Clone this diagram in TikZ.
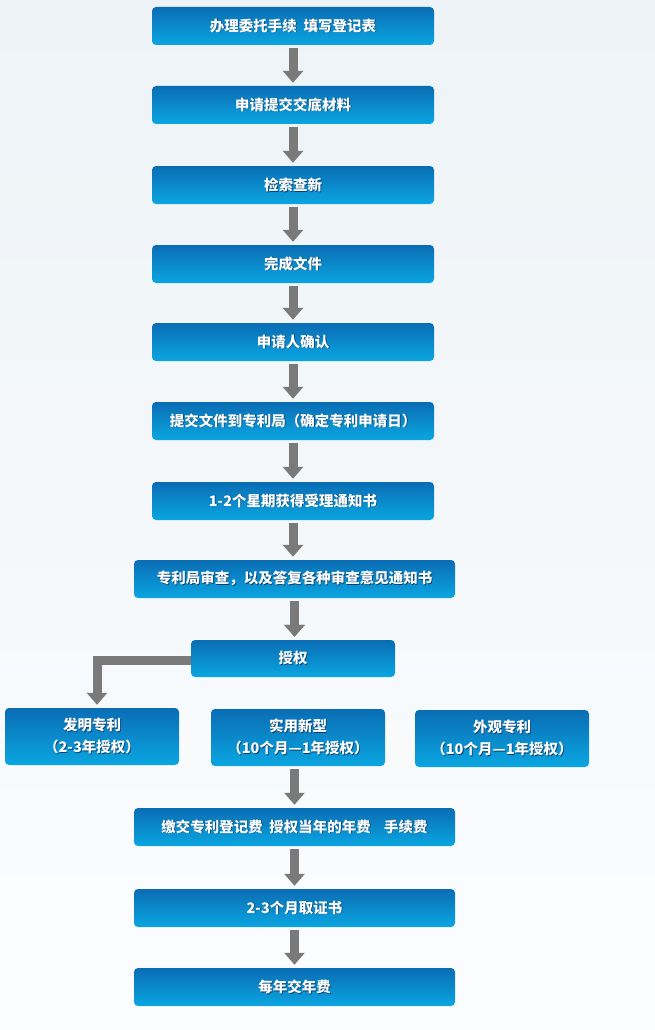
\documentclass[tikz,border=0pt]{standalone}
\usepackage{fontspec}
\setmainfont{Noto Sans CJK SC}
\usetikzlibrary{arrows.meta}
\definecolor{btop}{HTML}{0A6DB4}
\definecolor{bbot}{HTML}{0AA6E1}
\definecolor{shadowc}{HTML}{073F70}
\definecolor{arrgray}{HTML}{7A7A7A}
\definecolor{bgtop}{HTML}{EDF3F7}
\definecolor{bgbot}{HTML}{FCFDFE}
\newcommand\glow[1]{\leavevmode\rlap{\kern0.8pt\raisebox{-0.8pt}{\color{shadowc}#1}}#1}
\tikzset{
  stepbox/.style={rectangle, rounded corners=4pt, top color=btop, bottom color=bbot,
    draw=none, minimum width=282pt, minimum height=38pt, inner sep=0pt, text=white,
    align=center, font=\bfseries\fontsize{14.5}{22}\selectfont},
  widebox/.style={stepbox, minimum width=321pt},
  typebox/.style={stepbox, minimum width=174pt, minimum height=57pt},
  arr/.style={draw=arrgray, line width=9pt, shorten <=3pt, shorten >=3pt,
    -{Triangle[width=20pt,length=12pt]}, arrgray},
}
\begin{document}
\begin{tikzpicture}[x=1pt,y=-1pt]
\shade[top color=bgtop, bottom color=bgbot] (0,0) rectangle (655,1030);
\useasboundingbox (0,0) rectangle (655,1030);
\node[stepbox] (b1) at (293,26) {\glow{办理委托手续\ \ 填写登记表}};
\node[stepbox] (b2) at (293,105) {\glow{申请提交交底材料}};
\node[stepbox] (b3) at (293,185) {\glow{检索查新}};
\node[stepbox] (b4) at (293,264) {\glow{完成文件}};
\node[stepbox] (b5) at (293,342) {\glow{申请人确认}};
\node[stepbox] (b6) at (293,421) {\glow{提交文件到专利局（确定专利申请日）}};
\node[stepbox] (b7) at (293,501) {\glow{1-2个星期获得受理通知书}};
\node[widebox] (b8) at (294.5,579) {\glow{专利局审查，以及答复各种审查意见通知书}};
\node[stepbox, minimum width=204pt, minimum height=37pt] (b9) at (293,658.5) {\glow{授权}};
\node[typebox] (b10) at (92,736.5) {\glow{发明专利}\\\glow{（2-3年授权）}};
\node[typebox] (b11) at (298,737.5) {\glow{实用新型}\\\glow{（10个月—1年授权）}};
\node[typebox] (b12) at (502,738.5) {\glow{外观专利}\\\glow{（10个月—1年授权）}};
\node[widebox] (b13) at (294.5,827) {\glow{缴交专利登记费\ \ 授权当年的年费\ \ \ \ 手续费}};
\node[widebox] (b14) at (294.5,908) {\glow{2-3个月取证书}};
\node[widebox] (b15) at (294.5,987) {\glow{每年交年费}};
\foreach \a/\b in {b1/b2,b2/b3,b3/b4,b4/b5,b5/b6,b6/b7,b8/b9,b13/b14,b14/b15}
  \draw[arr] (\a.south) -- (\a.south |- \b.north);
\draw[arr] (b7.south) -- (b7.south |- b8.north);
\draw[arr] (b8.south) -- (b8.south |- b9.north);
\draw[arr, shorten <=0pt] ([yshift=-2pt]b9.west) -| ([xshift=5pt]b10.north);
\draw[arr] (b13.north |- b11.south) -- (b13.north);
\end{tikzpicture}
\end{document}
